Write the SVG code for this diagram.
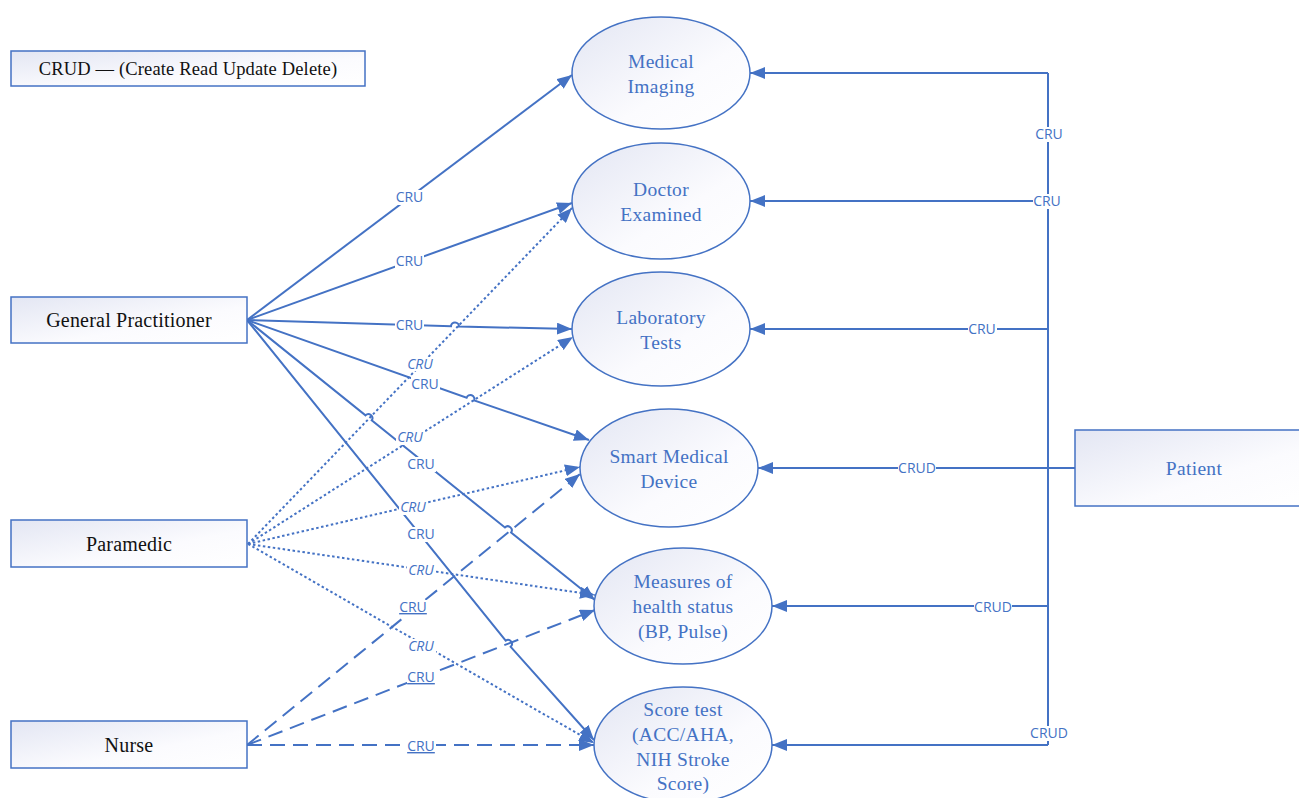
<svg xmlns="http://www.w3.org/2000/svg" width="1299" height="798" viewBox="0 0 1299 798">
  <defs>
    <linearGradient id="fillGrad" x1="0" y1="0" x2="1" y2="1">
      <stop offset="0" stop-color="#e3e6f3"/>
      <stop offset="0.6" stop-color="#fbfbfe"/>
      <stop offset="1" stop-color="#ffffff"/>
    </linearGradient>
    <marker id="arrow" markerUnits="userSpaceOnUse" markerWidth="16" markerHeight="12" refX="15" refY="6" orient="auto">
      <path d="M0,0 L15,6 L0,12 z" fill="#4472c4"/>
    </marker>
    <style>
      .box { fill: url(#fillGrad); stroke: #4472c4; stroke-width: 1.5; }
      .ell { fill: url(#fillGrad); stroke: #4472c4; stroke-width: 1.5; }
      .btxt { font-family: "Liberation Serif", "Times New Roman", serif; font-size: 20px; fill: #111; text-anchor: middle; letter-spacing: 0.2px; }
      .legtxt { font-family: "Liberation Serif", "Times New Roman", serif; font-size: 18.5px; fill: #111; text-anchor: middle; letter-spacing: 0.15px; }
      .etxt { font-family: "Liberation Serif", "Times New Roman", serif; font-size: 19.5px; fill: #4472c4; text-anchor: middle; letter-spacing: 0.3px; }
      .ln { fill: none; stroke: #4472c4; stroke-width: 2; marker-end: url(#arrow); }
      .plain { fill: none; stroke: #4472c4; stroke-width: 2; }
      .dot { stroke-dasharray: 2.5 2.5; }
      .dash { stroke-dasharray: 15 8; }
      .lbg { fill: #ffffff; }
      .lbl { font-family: "Open Sans", "Noto Sans", sans-serif; font-size: 14px; fill: #4472c4; text-anchor: middle; }
      .it { font-style: italic; }
      .ul { text-decoration: underline; }
    </style>
  </defs>

  <rect width="1299" height="798" fill="#ffffff"/>

  <!-- legend -->
  <g id="legend">
    <rect class="box" x="11" y="51" width="354" height="35"/>
    <text class="legtxt" x="188" y="75">CRUD — (Create Read Update Delete)</text>
  </g>

  <!-- connectors -->
  <g id="connectors">
    <!-- General Practitioner (solid) -->
    <path class="ln" d="M247,320 L572,75"/>
    <path class="ln" d="M247,320 L572,203"/>
    <path class="ln" d="M247,320 L451,326.3 A4,4 0 0 1 459,326.5 L572,329"/>
    <path class="ln" d="M247,320 L466.6,397.8 A4,4 0 0 1 474.2,400.4 L589,440"/>
    <path class="ln" d="M247,320 L365.5,415.4 A4,4 0 0 1 371.7,420.4 L504.9,527.5 A4,4 0 0 1 511.1,532.5 L595,600"/>
    <path class="ln" d="M247,320 L505.7,640.6 A4,4 0 0 1 510.7,646.8 L594,740"/>

    <!-- Paramedic (dotted) -->
    <path class="ln dot" d="M248,544 L572,208"/>
    <path class="ln dot" d="M248,544 L573,337"/>
    <path class="ln dot" d="M248,544 L580,467"/>
    <path class="ln dot" d="M248,544 L595,595"/>
    <path class="ln dot" d="M248,544 L594,743"/>

    <!-- Nurse (dashed) -->
    <path class="ln dash" d="M247,745 L580,474"/>
    <path class="ln dash" d="M247,745 L595,610"/>
    <path class="ln dash" d="M247,745 L594,745"/>

    <!-- Patient trunk and branches -->
    <path class="plain" d="M1048,73 L1048,745"/>
    <path class="ln" d="M1048,73 L750,73"/>
    <path class="ln" d="M1048,201 L750,201"/>
    <path class="ln" d="M1048,329 L750,329"/>
    <path class="ln" d="M1075,468 L758,468"/>
    <path class="ln" d="M1048,606 L772,606"/>
    <path class="ln" d="M1048,745 L772,745"/>

    <!-- connector labels -->
    <g id="labels">
      <!-- paramedic to doctor examined -->
      <rect class="lbg" x="406" y="357" width="28" height="14"/>
      <text class="lbl it" x="420" y="369">CRU</text>
      <!-- general practitioner -->
      <rect class="lbg" x="395" y="190" width="29" height="15"/>
      <text class="lbl" x="409.5" y="202">CRU</text>
      <rect class="lbg" x="395" y="254" width="29" height="15"/>
      <text class="lbl" x="409.5" y="266">CRU</text>
      <rect class="lbg" x="395" y="318" width="29" height="15"/>
      <text class="lbl" x="409.5" y="330">CRU</text>
      <rect class="lbg" x="411" y="376" width="29" height="15"/>
      <text class="lbl" x="425" y="389">CRU</text>
      <rect class="lbg" x="407" y="457" width="29" height="15"/>
      <text class="lbl" x="421" y="469">CRU</text>
      <rect class="lbg" x="407" y="527" width="29" height="15"/>
      <text class="lbl" x="421" y="539">CRU</text>
      <!-- paramedic -->
      <rect class="lbg" x="396" y="430" width="29" height="15"/>
      <text class="lbl it" x="410" y="442">CRU</text>
      <rect class="lbg" x="399" y="500" width="29" height="15"/>
      <text class="lbl it" x="413" y="512">CRU</text>
      <rect class="lbg" x="407" y="563" width="29" height="15"/>
      <text class="lbl it" x="421" y="575">CRU</text>
      <rect class="lbg" x="407" y="639" width="29" height="15"/>
      <text class="lbl it" x="421" y="651">CRU</text>
      <!-- nurse -->
      <rect class="lbg" x="399" y="600" width="29" height="16"/>
      <text class="lbl ul" x="413" y="612">CRU</text>
      <rect class="lbg" x="407" y="670" width="29" height="16"/>
      <text class="lbl ul" x="421" y="682">CRU</text>
      <rect class="lbg" x="407" y="739" width="29" height="16"/>
      <text class="lbl ul" x="421" y="751">CRU</text>
      <!-- patient -->
      <rect class="lbg" x="1035" y="127" width="29" height="15"/>
      <text class="lbl" x="1049" y="139">CRU</text>
      <rect class="lbg" x="1033" y="194" width="29" height="15"/>
      <text class="lbl" x="1047" y="206">CRU</text>
      <rect class="lbg" x="968" y="322" width="29" height="15"/>
      <text class="lbl" x="982" y="334">CRU</text>
      <rect class="lbg" x="898" y="461" width="38" height="15"/>
      <text class="lbl" x="917" y="473">CRUD</text>
      <rect class="lbg" x="974" y="600" width="38" height="15"/>
      <text class="lbl" x="993" y="612">CRUD</text>
      <rect class="lbg" x="1030" y="726" width="38" height="15"/>
      <text class="lbl" x="1049" y="738">CRUD</text>
    </g>
  </g>

  <!-- actors -->
  <g id="general-practitioner">
    <rect class="box" x="11" y="297" width="236" height="46"/>
    <text class="btxt" x="129" y="327">General Practitioner</text>
  </g>
  <g id="paramedic">
    <rect class="box" x="11" y="520" width="236" height="47"/>
    <text class="btxt" x="129" y="551">Paramedic</text>
  </g>
  <g id="nurse">
    <rect class="box" x="11" y="721" width="236" height="47"/>
    <text class="btxt" x="129" y="752">Nurse</text>
  </g>
  <g id="patient">
    <rect class="box" x="1075" y="430" width="238" height="76"/>
    <text class="etxt" x="1194" y="475">Patient</text>
  </g>

  <!-- records -->
  <g id="medical-imaging">
    <ellipse class="ell" cx="661" cy="73" rx="89" ry="56"/>
    <text class="etxt" x="661" y="68">Medical</text>
    <text class="etxt" x="661" y="93">Imaging</text>
  </g>
  <g id="doctor-examined">
    <ellipse class="ell" cx="661" cy="201" rx="89" ry="58"/>
    <text class="etxt" x="661" y="196">Doctor</text>
    <text class="etxt" x="661" y="221">Examined</text>
  </g>
  <g id="laboratory-tests">
    <ellipse class="ell" cx="661" cy="329" rx="89" ry="57"/>
    <text class="etxt" x="661" y="324">Laboratory</text>
    <text class="etxt" x="661" y="349">Tests</text>
  </g>
  <g id="smart-medical-device">
    <ellipse class="ell" cx="669" cy="468" rx="89" ry="59"/>
    <text class="etxt" x="669" y="463">Smart Medical</text>
    <text class="etxt" x="669" y="488">Device</text>
  </g>
  <g id="measures-health-status">
    <ellipse class="ell" cx="683" cy="606" rx="89" ry="58"/>
    <text class="etxt" x="683" y="588">Measures of</text>
    <text class="etxt" x="683" y="613">health status</text>
    <text class="etxt" x="683" y="638">(BP, Pulse)</text>
  </g>
  <g id="score-test">
    <ellipse class="ell" cx="683" cy="745" rx="89" ry="58"/>
    <text class="etxt" x="683" y="716">Score test</text>
    <text class="etxt" x="683" y="741">(ACC/AHA,</text>
    <text class="etxt" x="683" y="766">NIH Stroke</text>
    <text class="etxt" x="683" y="790">Score)</text>
  </g>
</svg>
